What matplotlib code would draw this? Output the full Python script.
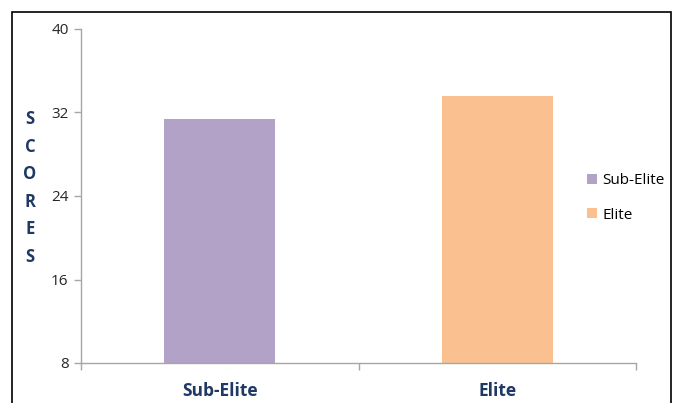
import matplotlib.pyplot as plt
from matplotlib.patches import Rectangle

groups = ["Sub-Elite", "Elite"]
scores = [31.4, 33.6]
colors = ["#B2A2C7", "#FAC090"]
yticks = [8, 16, 24, 32, 40]

NAVY = "#1F3864"
GRID = "#A6A6A6"

plt.rcParams["font.family"] = ["Open Sans", "DejaVu Sans"]

fig = plt.figure(figsize=(6.77, 4.03), dpi=100)
W, H = 677, 403
ax = fig.add_axes([81 / W, 1 - 363 / H, (636 - 81) / W, (363 - 29) / H])

x = list(range(len(groups)))
bars = ax.bar(x, scores, width=0.4, color=colors, label=groups, zorder=2)

ax.set_xlim(-0.5, len(groups) - 0.5)
ax.set_ylim(8, 40)
ax.set_yticks(yticks)
ax.set_yticklabels([str(v) for v in yticks], fontsize=11, color="#262626")
ax.set_xticks(x)
ax.set_xticklabels(groups, fontsize=12.5, fontweight="bold", color=NAVY)
ax.set_xticks([-0.5, 0.5, 1.5], minor=True)
ax.tick_params(axis="x", which="major", length=0, pad=14)
ax.tick_params(axis="x", which="minor", length=5, color=GRID, width=1)
ax.tick_params(axis="y", length=5, color=GRID, width=1, pad=4)

for s in ("top", "right"):
    ax.spines[s].set_visible(False)
for s in ("left", "bottom"):
    ax.spines[s].set_color(GRID)
    ax.spines[s].set_linewidth(1)

fig.text(30 / W, 1 - 188 / H, "S\nC\nO\nR\nE\nS", ha="center", va="center",
         fontsize=12, fontweight="bold", color=NAVY, linespacing=1.68)

leg = fig.legend(handles=bars, labels=groups, loc="center left",
                 bbox_to_anchor=(573 / W, 1 - 198 / H), frameon=False,
                 fontsize=11, handlelength=0.65, handleheight=0.65,
                 handletextpad=0.35, labelspacing=1.25)

fig.patches.append(Rectangle((12 / W, -0.05), (671 - 12) / W, 1 - 12 / H + 0.05,
                             transform=fig.transFigure, fill=False,
                             edgecolor="black", linewidth=1.2))

fig.savefig("out.png", dpi=100)
